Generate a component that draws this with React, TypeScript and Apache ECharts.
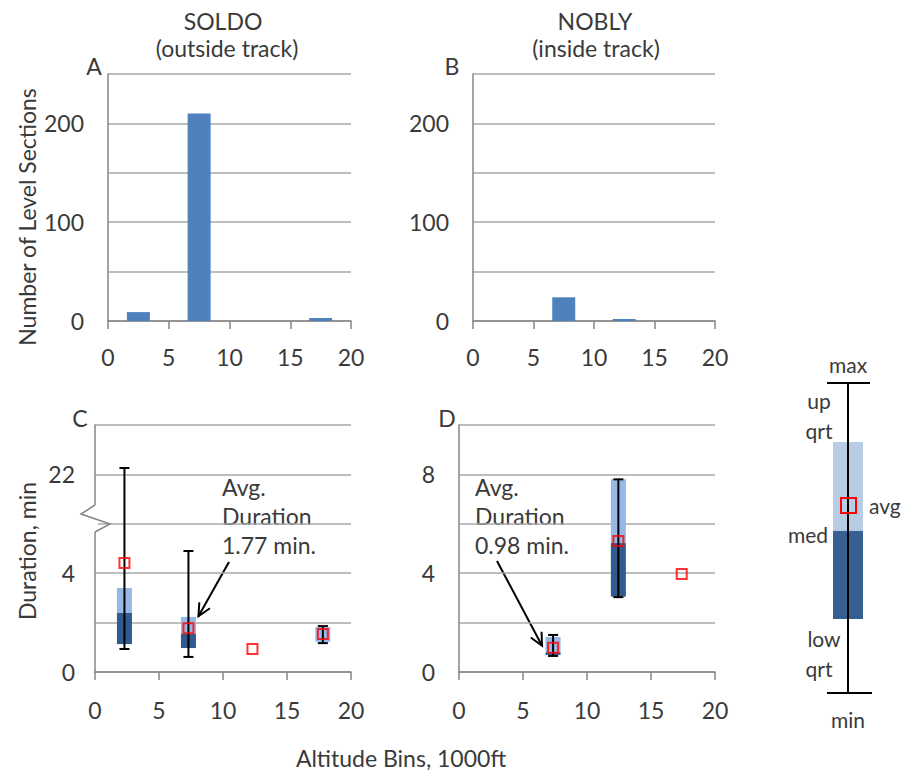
import React, { useEffect, useRef } from "react";
import * as echarts from "echarts";

// Histogram (panels A, B)
const histBins = [2.5, 7.5, 12.5, 17.5];
const soldoCounts = [9, 210, 0, 3];
const noblyCounts = [0, 24, 2, 0];

// Duration stats (panel C, SOLDO) – minutes
const soldoX = [2.3, 7.3, 12.3, 17.8];
const soldoMin = [0.93, 0.61, null, 1.17];
const soldoLowQ = [1.13, 0.97, null, 1.22];
const soldoMed = [2.39, 1.54, null, 1.22];
const soldoUpQ = [3.4, 2.23, null, 1.82];
const soldoMax = [22.26, 4.9, null, 1.86];
const soldoAvg = [4.41, 1.77, 0.93, 1.54];

// Duration stats (panel D, NOBLY) – minutes
const noblyX = [7.35, 12.45, 17.4];
const noblyMin = [0.65, 3.03, null];
const noblyLowQ = [0.69, 3.05, null];
const noblyMed = [0.8, 5.22, null];
const noblyUpQ = [1.42, 7.8, null];
const noblyMax = [1.5, 7.8, null];
const noblyAvg = [0.98, 5.3, 3.97];

const xTicks = [0, 5, 10, 15, 20];
const countTickLabels = ["0", "100", "200"];
const durTickLabelsC: Record<number, string> = { 0: "0", 4: "4", 8: "22" };
const durTickLabelsD: Record<number, string> = { 0: "0", 4: "4", 8: "8" };

const FONT = "Lato";
const FS = 23;
const TXT = "#3a3a3a";
const BAR = "#4f81bd";
const LIGHT = "#95b8e6";
const DARK = "#2f5b91";
const AXIS = "#868686";
const GRIDC = "#a8a8a8";

// broken axis in panel C: values above 6 are shifted down by 14
const brk = (v: number | null) => (v == null ? null : v > 6 ? v - 14 : v);

export default function App() {
  const ref = useRef<HTMLDivElement>(null);
  useEffect(() => {
    document.body.style.margin = "0";
    const chart = echarts.init(ref.current!, null, { renderer: "svg" });

    const grids = [
      { left: 108, top: 74, width: 243, height: 247 },
      { left: 473, top: 74, width: 242, height: 247 },
      { left: 95, top: 425, width: 256, height: 247 },
      { left: 459, top: 425, width: 256, height: 247 },
    ];

    const xAxis = grids.map((_, i) => ({
      type: "value",
      gridIndex: i,
      min: xTicks[0],
      max: xTicks[xTicks.length - 1],
      interval: 5,
      axisLine: { show: true, lineStyle: { color: AXIS, width: 1.5 } },
      axisTick: { show: true, length: 8, lineStyle: { color: AXIS, width: 1.5 } },
      splitLine: { show: false },
      axisLabel: { fontFamily: FONT, fontSize: FS, color: TXT, margin: i < 2 ? 24 : 26 },
    }));

    const yAxis = grids.map((_, i) => ({
      type: "value",
      gridIndex: i,
      min: 0,
      max: i < 2 ? 250 : 10,
      interval: i < 2 ? 50 : 2,
      axisLine: { show: true, lineStyle: { color: AXIS, width: 1.5 } },
      axisTick: { show: false },
      splitLine: { show: true, lineStyle: { color: GRIDC, width: 1.5 } },
      axisLabel: {
        fontFamily: FONT,
        fontSize: FS,
        color: TXT,
        margin: i === 2 ? 20 : 24,
        formatter: (v: number) => {
          if (i < 2) return countTickLabels.includes(String(v)) ? String(v) : "";
          const m = i === 2 ? durTickLabelsC : durTickLabelsD;
          return m[v] ?? "";
        },
      },
    }));

    const barSeries = (counts: number[], idx: number) => ({
      type: "bar",
      xAxisIndex: idx,
      yAxisIndex: idx,
      barWidth: 23,
      itemStyle: { color: BAR },
      data: histBins
        .map((b, k) => [b, counts[k]])
        .filter((d) => d[1] > 0),
    });

    const boxData = (
      xs: number[],
      mn: (number | null)[],
      lo: (number | null)[],
      md: (number | null)[],
      up: (number | null)[],
      mx: (number | null)[],
      f: (v: number | null) => number | null
    ) =>
      xs
        .map((x, k) => [x, f(mn[k]), f(lo[k]), f(md[k]), f(up[k]), f(mx[k])])
        .filter((d) => d[1] != null);

    const renderBox = (params: any, api: any) => {
      const x = api.value(0);
      const mn = api.value(1);
      const lo = api.value(2);
      const md = api.value(3);
      const up = api.value(4);
      const mx = api.value(5);
      const pMin = api.coord([x, mn]);
      const pLo = api.coord([x, lo]);
      const pMd = api.coord([x, md]);
      const pUp = api.coord([x, up]);
      const pMax = api.coord([x, mx]);
      const w = 15;
      const cap = 5;
      const cx = pMin[0];
      return {
        type: "group",
        children: [
          {
            type: "rect",
            shape: { x: cx - w / 2, y: pUp[1], width: w, height: Math.max(0, pMd[1] - pUp[1]) },
            style: { fill: LIGHT },
          },
          {
            type: "rect",
            shape: { x: cx - w / 2, y: pMd[1], width: w, height: Math.max(0, pLo[1] - pMd[1]) },
            style: { fill: DARK },
          },
          {
            type: "line",
            shape: { x1: cx, y1: pMax[1], x2: cx, y2: pMin[1] },
            style: { stroke: "#000", lineWidth: 2 },
          },
          {
            type: "line",
            shape: { x1: cx - cap, y1: pMax[1], x2: cx + cap, y2: pMax[1] },
            style: { stroke: "#000", lineWidth: 2 },
          },
          {
            type: "line",
            shape: { x1: cx - cap, y1: pMin[1], x2: cx + cap, y2: pMin[1] },
            style: { stroke: "#000", lineWidth: 2 },
          },
        ],
      };
    };

    const avgSeries = (xs: number[], avg: number[], idx: number, f: (v: number) => number | null) => ({
      type: "scatter",
      xAxisIndex: idx,
      yAxisIndex: idx,
      symbol: "rect",
      symbolSize: 10,
      z: 5,
      itemStyle: { color: "rgba(0,0,0,0)", borderColor: "#ff0000", borderWidth: 2 },
      data: xs.map((x, k) => [x, f(avg[k])]),
    });

    const ident = (v: number | null) => v;

    const textStyle = (t: string, size = FS) => ({ text: t, fontFamily: FONT, fontSize: size, fill: TXT });

    const legendX = 848;
    const LFS = 21;
    const legendEls: any[] = [
      { type: "rect", shape: { x: legendX - 15, y: 442, width: 30, height: 89 }, style: { fill: "#b8cce4" } },
      { type: "rect", shape: { x: legendX - 15, y: 531, width: 30, height: 88 }, style: { fill: "#376092" } },
      { type: "line", shape: { x1: legendX, y1: 383, x2: legendX, y2: 693 }, style: { stroke: "#000", lineWidth: 2 } },
      { type: "line", shape: { x1: legendX - 21, y1: 383, x2: legendX + 22, y2: 383 }, style: { stroke: "#000", lineWidth: 2 } },
      { type: "line", shape: { x1: legendX - 21, y1: 693, x2: legendX + 24, y2: 693 }, style: { stroke: "#000", lineWidth: 2 } },
      {
        type: "rect",
        shape: { x: legendX - 7, y: 498, width: 15, height: 15 },
        style: { fill: "rgba(0,0,0,0)", stroke: "#ff0000", lineWidth: 2 },
      },
      { type: "text", x: legendX, y: 364, style: { ...textStyle("max", LFS), align: "center", verticalAlign: "middle" } },
      { type: "text", x: 819, y: 400, style: { ...textStyle("up", LFS), align: "center", verticalAlign: "middle" } },
      { type: "text", x: 819, y: 430, style: { ...textStyle("qrt", LFS), align: "center", verticalAlign: "middle" } },
      { type: "text", x: 869, y: 505, style: { ...textStyle("avg", LFS), align: "left", verticalAlign: "middle" } },
      { type: "text", x: 808, y: 534, style: { ...textStyle("med", LFS), align: "center", verticalAlign: "middle" } },
      { type: "text", x: 824, y: 638, style: { ...textStyle("low", LFS), align: "center", verticalAlign: "middle" } },
      { type: "text", x: 819, y: 668, style: { ...textStyle("qrt", LFS), align: "center", verticalAlign: "middle" } },
      { type: "text", x: legendX, y: 719, style: { ...textStyle("min", LFS), align: "center", verticalAlign: "middle" } },
    ];

    const titleEls: any[] = [
      { type: "text", x: 223, y: 21, style: { ...textStyle("SOLDO"), align: "center", verticalAlign: "middle" } },
      { type: "text", x: 227, y: 48, style: { ...textStyle("(outside track)"), align: "center", verticalAlign: "middle" } },
      { type: "text", x: 595, y: 21, style: { ...textStyle("NOBLY"), align: "center", verticalAlign: "middle" } },
      { type: "text", x: 596, y: 48, style: { ...textStyle("(inside track)"), align: "center", verticalAlign: "middle" } },
      { type: "text", x: 94, y: 66, style: { ...textStyle("A"), align: "center", verticalAlign: "middle" } },
      { type: "text", x: 452, y: 66, style: { ...textStyle("B"), align: "center", verticalAlign: "middle" } },
      { type: "text", x: 80, y: 418, style: { ...textStyle("C"), align: "center", verticalAlign: "middle" } },
      { type: "text", x: 447, y: 418, style: { ...textStyle("D"), align: "center", verticalAlign: "middle" } },
      {
        type: "text",
        x: 27,
        y: 217,
        rotation: Math.PI / 2,
        style: { ...textStyle("Number of Level Sections"), align: "center", verticalAlign: "middle" },
      },
      {
        type: "text",
        x: 27,
        y: 551,
        rotation: Math.PI / 2,
        style: { ...textStyle("Duration, min"), align: "center", verticalAlign: "middle" },
      },
      { type: "text", x: 401, y: 758, style: { ...textStyle("Altitude Bins, 1000ft"), align: "center", verticalAlign: "middle" } },
      {
        type: "text",
        x: 222,
        y: 472,
        style: { ...textStyle("Avg.\nDuration\n1.77 min."), lineHeight: 29, align: "left", verticalAlign: "top" },
      },
      {
        type: "text",
        x: 475,
        y: 472,
        style: { ...textStyle("Avg.\nDuration\n0.98 min."), lineHeight: 29, align: "left", verticalAlign: "top" },
      },
      // axis break marker in panel C
      { type: "rect", shape: { x: 92, y: 505, width: 6, height: 27 }, style: { fill: "#fff" }, z: 50 },
      {
        type: "polyline",
        shape: { points: [[95, 505], [81, 514], [110, 524], [95, 532]] },
        style: { stroke: AXIS, lineWidth: 1.5, fill: null },
        z: 51,
      },
    ];

    chart.setOption({
      animation: false,
      backgroundColor: "#ffffff",
      grid: grids,
      xAxis,
      yAxis,
      series: [
        barSeries(soldoCounts, 0),
        barSeries(noblyCounts, 1),
        {
          type: "custom",
          xAxisIndex: 2,
          yAxisIndex: 2,
          renderItem: renderBox,
          encode: { x: 0, y: [1, 2, 3, 4, 5] },
          data: boxData(soldoX, soldoMin, soldoLowQ, soldoMed, soldoUpQ, soldoMax, brk),
          clip: false,
        },
        {
          type: "custom",
          xAxisIndex: 3,
          yAxisIndex: 3,
          renderItem: renderBox,
          encode: { x: 0, y: [1, 2, 3, 4, 5] },
          data: boxData(noblyX, noblyMin, noblyLowQ, noblyMed, noblyUpQ, noblyMax, ident),
          clip: false,
        },
        avgSeries(soldoX, soldoAvg, 2, (v) => brk(v) as number),
        avgSeries(noblyX, noblyAvg, 3, (v) => v),
      ],
      graphic: [...titleEls, ...legendEls],
    });

    // annotation arrows pointing at the average markers
    const arrow = (from: number[], to: number[]) => {
      const ang = Math.atan2(to[1] - from[1], to[0] - from[0]);
      const L = 14;
      const a1 = ang + Math.PI - 0.45;
      const a2 = ang + Math.PI + 0.45;
      return [
        { type: "line", shape: { x1: from[0], y1: from[1], x2: to[0], y2: to[1] }, style: { stroke: "#000", lineWidth: 2 } },
        {
          type: "polyline",
          shape: {
            points: [
              [to[0] + L * Math.cos(a1), to[1] + L * Math.sin(a1)],
              [to[0], to[1]],
              [to[0] + L * Math.cos(a2), to[1] + L * Math.sin(a2)],
            ],
          },
          style: { stroke: "#000", lineWidth: 2, fill: null },
        },
      ];
    };
    const pC = chart.convertToPixel({ gridIndex: 2 }, [soldoX[1], soldoAvg[1]]) as number[];
    const pD = chart.convertToPixel({ gridIndex: 3 }, [noblyX[0], noblyAvg[0]]) as number[];
    chart.setOption({
      graphic: [
        ...titleEls,
        ...legendEls,
        ...arrow([229, 562], [pC[0] + 10, pC[1] - 12]),
        ...arrow([497, 561], [pD[0] - 11, pD[1] - 2]),
      ],
    });

    return () => chart.dispose();
  }, []);
  return <div ref={ref} style={{ width: 911, height: 772 }} />;
}
